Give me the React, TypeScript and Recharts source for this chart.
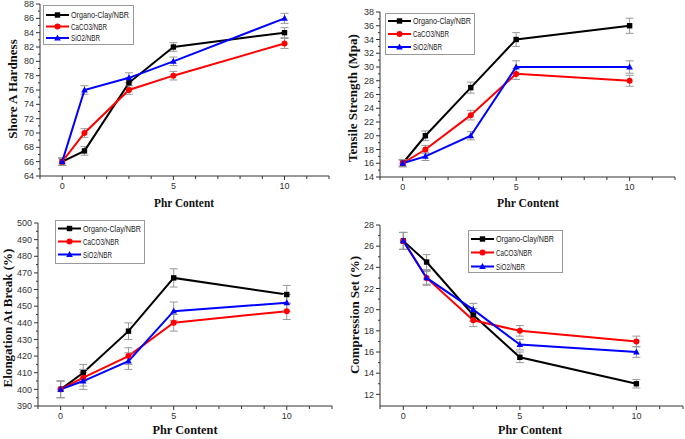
import React from 'react';
import { LineChart, Line, XAxis, YAxis, ErrorBar, Legend, Label } from 'recharts';

// ---------- shared ----------
const phr = [0, 1, 3, 5, 10];
const xTickValues = [-1, 0, 1, 2, 3, 4, 5, 6, 7, 8, 9, 10, 11, 12];
const xMajorTicks = [0, 5, 10];
const seriesNames = ['Organo-Clay/NBR', 'CaCO3/NBR', 'SiO2/NBR'];
const seriesColors = ['#000000', '#ff0000', '#0000ff'];
const xTitle = 'Phr Content';

// ---------- panel 1: Shore A Hardness ----------
const hardnessOrgano = [66, 67.5, 77, 82, 84];
const hardnessCaco3 = [66, 70, 76, 78, 82.5];
const hardnessSio2 = [66, 76, 77.7, 80, 86];
const hardnessErrOrgano = [0.5, 0.6, 0.7, 0.6, 0.7];
const hardnessErrCaco3 = [0.5, 0.6, 0.6, 0.6, 0.7];
const hardnessErrSio2 = [0.5, 0.6, 0.7, 0.6, 0.7];
const hardnessTicks = [64, 65, 66, 67, 68, 69, 70, 71, 72, 73, 74, 75, 76, 77, 78, 79, 80, 81, 82, 83, 84, 85, 86, 87, 88];
const hardnessMajor = [64, 66, 68, 70, 72, 74, 76, 78, 80, 82, 84, 86, 88];

// ---------- panel 2: Tensile Strength ----------
const tensileOrgano = [16, 20, 27, 34, 36];
const tensileCaco3 = [16, 18, 23, 29, 28];
const tensileSio2 = [16, 17, 20, 30, 30];
const tensileErrOrgano = [0.5, 0.7, 0.8, 1.0, 1.1];
const tensileErrCaco3 = [0.5, 0.6, 0.7, 0.8, 0.8];
const tensileErrSio2 = [0.5, 0.6, 0.6, 0.9, 0.9];
const tensileTicks = [14, 15, 16, 17, 18, 19, 20, 21, 22, 23, 24, 25, 26, 27, 28, 29, 30, 31, 32, 33, 34, 35, 36, 37, 38];
const tensileMajor = [14, 16, 18, 20, 22, 24, 26, 28, 30, 32, 34, 36, 38];

// ---------- panel 3: Elongation At Break ----------
const elongOrgano = [400, 410, 435, 467, 457];
const elongCaco3 = [400, 407, 420, 440, 447];
const elongSio2 = [400, 405, 417, 447, 452];
const elongErrOrgano = [5, 5, 5, 5.5, 5.5];
const elongErrCaco3 = [5, 5, 5, 5, 5];
const elongErrSio2 = [5, 5, 5, 5.5, 5];
const elongTicks = [390, 395, 400, 405, 410, 415, 420, 425, 430, 435, 440, 445, 450, 455, 460, 465, 470, 475, 480, 485, 490, 495, 500];
const elongMajor = [390, 400, 410, 420, 430, 440, 450, 460, 470, 480, 490, 500];

// ---------- panel 4: Compression Set ----------
const compOrgano = [26.5, 24.5, 19.5, 15.5, 13];
const compCaco3 = [26.5, 23, 19, 18, 17];
const compSio2 = [26.5, 23, 20, 16.7, 16];
const compErrOrgano = [0.8, 0.7, 0.6, 0.5, 0.4];
const compErrCaco3 = [0.8, 0.6, 0.6, 0.5, 0.5];
const compErrSio2 = [0.8, 0.7, 0.6, 0.5, 0.5];
const compTicks = [12, 13, 14, 15, 16, 17, 18, 19, 20, 21, 22, 23, 24, 25, 26, 27, 28];
const compMajor = [12, 14, 16, 18, 20, 22, 24, 26, 28];

function buildData(a: number[], b: number[], c: number[], ea: number[], eb: number[], ec: number[]) {
  return phr.map((x, i) => ({ x, s0: a[i], s1: b[i], s2: c[i], e0: ea[i], e1: eb[i], e2: ec[i] }));
}

const sansFont = '"Liberation Sans", Arial, sans-serif';
const serifFont = '"Liberation Serif", "Times New Roman", serif';

function Marker({ kind, cx, cy, color }: any) {
  if (cx == null || cy == null) return null;
  if (kind === 0) return <rect x={cx - 2.7} y={cy - 2.7} width={5.4} height={5.4} fill={color} />;
  if (kind === 1) return <circle cx={cx} cy={cy} r={3} fill={color} />;
  return <polygon points={`${cx},${cy - 3.6} ${cx - 3.3},${cy + 2.4} ${cx + 3.3},${cy + 2.4}`} fill={color} />;
}

const makeYTick = (majors: number[]) => (props: any) => {
  const { x, y, payload } = props;
  const major = majors.includes(payload.value);
  return (
    <g>
      <line x1={x} x2={x - (major ? 4 : 2)} y1={y} y2={y} stroke="#333" strokeWidth={1} />
      {major && (
        <text x={x - 6} y={y} dy="0.35em" textAnchor="end" fontSize={9} fill="#333" fontFamily={sansFont}>
          {payload.value}
        </text>
      )}
    </g>
  );
};

const XTick = (props: any) => {
  const { x, y, payload } = props;
  const major = xMajorTicks.includes(payload.value);
  return (
    <g>
      <line x1={x} x2={x} y1={y} y2={y + (major ? 4 : 3)} stroke="#333" strokeWidth={1} />
      {major && (
        <text x={x} y={y + 10} dy="0.35em" textAnchor="middle" fontSize={9} fill="#333" fontFamily={sansFont}>
          {payload.value}
        </text>
      )}
    </g>
  );
};

function LegendBox({ w, h, rows }: { w: number; h: number; rows: number[] }) {
  return (
    <svg width={w} height={h} style={{ display: 'block', overflow: 'visible' }}>
      <rect x={0.5} y={0.5} width={w - 1} height={h - 1} fill="#fff" stroke="#999" strokeWidth={1} />
      {seriesNames.map((name, i) => (
        <g key={name}>
          <line x1={3} x2={26} y1={rows[i]} y2={rows[i]} stroke={seriesColors[i]} strokeWidth={2} />
          <Marker kind={i} cx={14.5} cy={rows[i]} color={seriesColors[i]} />
          <text x={28} y={rows[i]} dy="0.35em" fontSize={9} fill="#222" fontFamily={sansFont}
            textLength={i === 0 ? 58 : i === 1 ? 36 : 29} lengthAdjust="spacingAndGlyphs">
            {name}
          </text>
        </g>
      ))}
    </svg>
  );
}

type PanelProps = {
  left: number; top: number; width: number; height: number;
  plot: { top: number; right: number; bottom: number; left: number };
  data: any[];
  yDomain: [number, number];
  yTicks: number[];
  yMajor: number[];
  yTitle: string;
  yTitlePos: [number, number];
  xTitlePos: [number, number];
  xTitleLen: number;
  legend: { left: number; top: number; w: number; h: number; rows: number[] };
};

function Panel(p: PanelProps) {
  const YTick = makeYTick(p.yMajor);
  return (
    <div style={{ position: 'absolute', left: p.left, top: p.top, width: p.width, height: p.height }}>
      <LineChart width={p.width} height={p.height} data={p.data}
        margin={{ top: p.plot.top, right: p.plot.right, bottom: 0, left: 0 }} style={{ overflow: 'visible' }}>
        <XAxis
          dataKey="x" type="number" domain={[-1, 12]} ticks={xTickValues} interval={0}
          tick={<XTick />} tickLine={false} tickSize={0} tickMargin={0} height={p.plot.bottom}
          axisLine={{ stroke: '#333', strokeWidth: 1 }} allowDataOverflow
        >
          <Label content={() => (
            <text x={p.xTitlePos[0]} y={p.xTitlePos[1]} dy="0.35em" textAnchor="middle" fontSize={13}
              fontWeight="bold" fontFamily={serifFont} fill="#111" textLength={p.xTitleLen} lengthAdjust="spacingAndGlyphs">
              {xTitle}
            </text>
          )} />
        </XAxis>
        <YAxis
          type="number" domain={p.yDomain} ticks={p.yTicks} interval={0}
          tick={<YTick />} tickLine={false} tickSize={0} tickMargin={0} width={p.plot.left}
          axisLine={{ stroke: '#333', strokeWidth: 1 }} allowDataOverflow
        >
          <Label content={() => (
            <text x={p.yTitlePos[0]} y={p.yTitlePos[1]} dy="0.35em" textAnchor="middle" fontSize={13}
              fontWeight="bold" fontFamily={serifFont} fill="#111"
              transform={`rotate(-90 ${p.yTitlePos[0]} ${p.yTitlePos[1]})`}>
              {p.yTitle}
            </text>
          )} />
        </YAxis>
        <Legend
          layout="horizontal" verticalAlign="middle" align="center"
          wrapperStyle={{ position: 'absolute', left: p.legend.left, top: p.legend.top, width: p.legend.w, height: p.legend.h, margin: 0, padding: 0 }}
          content={() => <LegendBox w={p.legend.w} h={p.legend.h} rows={p.legend.rows} />}
        />
        {[0, 1, 2].map((i) => (
          <Line
            key={i}
            type="linear"
            dataKey={`s${i}`}
            name={seriesNames[i]}
            stroke={seriesColors[i]}
            strokeWidth={2}
            isAnimationActive={false}
            dot={(d: any) => <Marker key={`m${i}-${d.index}`} kind={i} cx={d.cx} cy={d.cy} color={seriesColors[i]} />}
            activeDot={false}
          >
            <ErrorBar dataKey={`e${i}`} direction="y" width={4} stroke="#999" strokeWidth={1} isAnimationActive={false} />
          </Line>
        ))}
      </LineChart>
    </div>
  );
}

export default function App() {
  return (
    <div style={{ position: 'absolute', left: 0, top: 0, width: 685, height: 439, background: '#fff', overflow: 'hidden' }}>
      <Panel
        left={0} top={0} width={345} height={215}
        plot={{ top: 4, right: 16, bottom: 39, left: 40 }}
        data={buildData(hardnessOrgano, hardnessCaco3, hardnessSio2, hardnessErrOrgano, hardnessErrCaco3, hardnessErrSio2)}
        yDomain={[64, 88]} yTicks={hardnessTicks} yMajor={hardnessMajor}
        yTitle="Shore A Hardness" yTitlePos={[12, 89]} xTitlePos={[184, 202]} xTitleLen={60}
        legend={{ left: 43, top: 5, w: 91, h: 40, rows: [10, 21.5, 33] }}
      />
      <Panel
        left={340} top={0} width={345} height={215}
        plot={{ top: 12, right: 10, bottom: 38, left: 40 }}
        data={buildData(tensileOrgano, tensileCaco3, tensileSio2, tensileErrOrgano, tensileErrCaco3, tensileErrSio2)}
        yDomain={[14, 38]} yTicks={tensileTicks} yMajor={tensileMajor}
        yTitle="Tensile Strength (Mpa)" yTitlePos={[12, 98]} xTitlePos={[188, 202]} xTitleLen={62}
        legend={{ left: 45, top: 13, w: 90, h: 42, rows: [8, 21, 34] }}
      />
      <Panel
        left={0} top={215} width={345} height={224}
        plot={{ top: 8, right: 13, bottom: 33, left: 38 }}
        data={buildData(elongOrgano, elongCaco3, elongSio2, elongErrOrgano, elongErrCaco3, elongErrSio2)}
        yDomain={[390, 500]} yTicks={elongTicks} yMajor={elongMajor}
        yTitle="Elongation At Break (%)" yTitlePos={[7, 103]} xTitlePos={[185, 214]} xTitleLen={65}
        legend={{ left: 55, top: 5, w: 90, h: 44, rows: [8.5, 21.5, 34.5] }}
      />
      <Panel
        left={340} top={215} width={345} height={224}
        plot={{ top: 10, right: 2, bottom: 33, left: 40 }}
        data={buildData(compOrgano, compCaco3, compSio2, compErrOrgano, compErrCaco3, compErrSio2)}
        yDomain={[10.9, 28]} yTicks={compTicks} yMajor={compMajor}
        yTitle="Compression Set (%)" yTitlePos={[14, 100]} xTitlePos={[190, 214]} xTitleLen={64}
        legend={{ left: 128, top: 15, w: 95, h: 43, rows: [9, 22.5, 36.5] }}
      />
    </div>
  );
}
